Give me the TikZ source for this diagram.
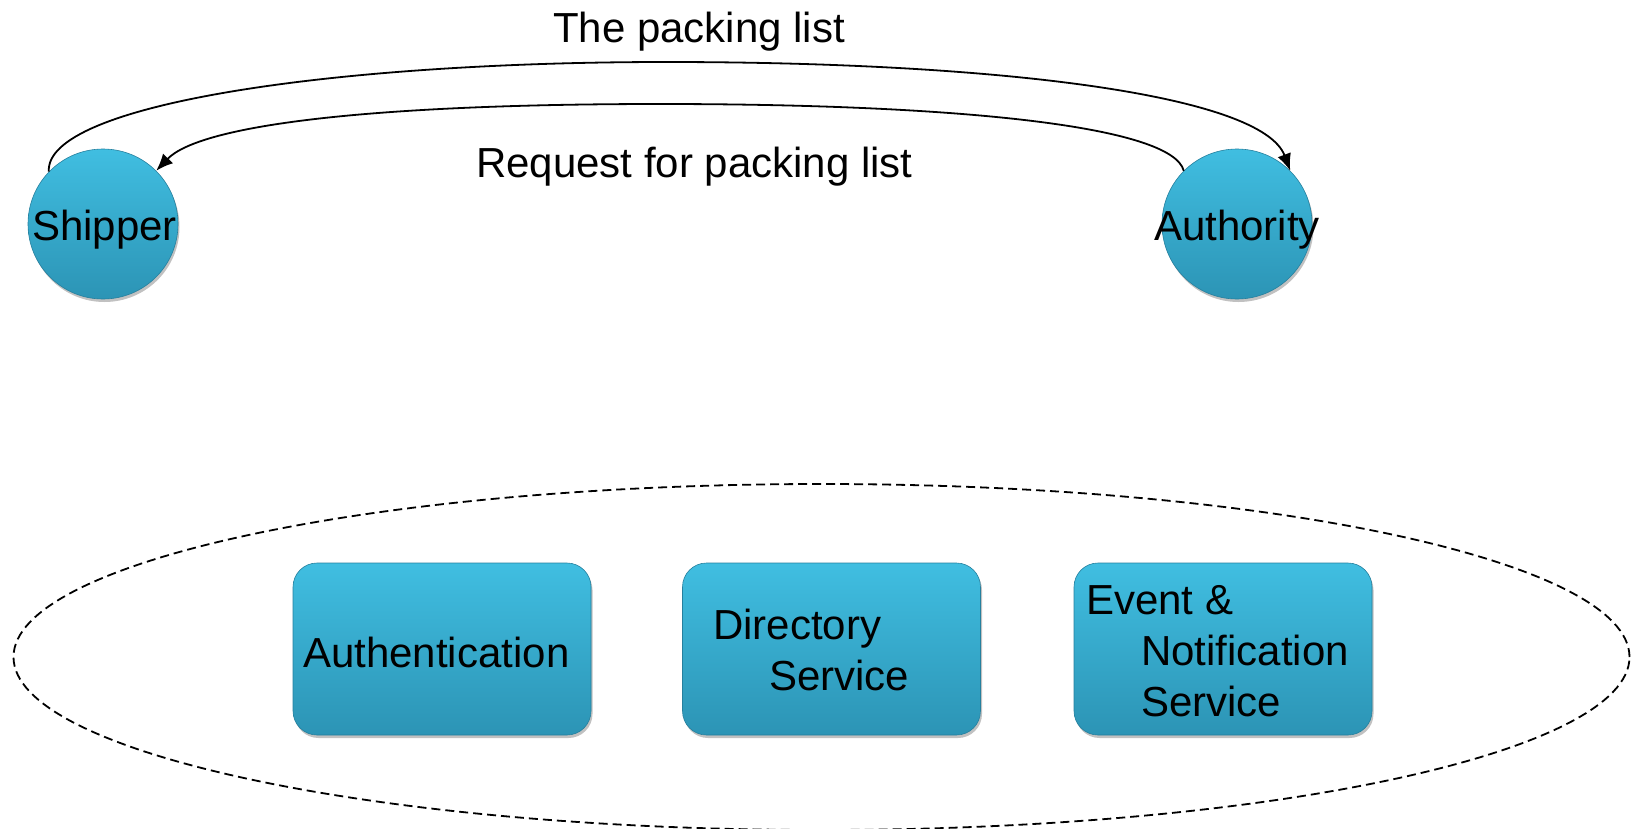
\documentclass[tikz,border=0pt]{standalone}
\usepackage{fontspec}
\setmainfont{Liberation Sans}
\usetikzlibrary{arrows.meta,shadows,shapes.geometric}
\definecolor{ballTop}{RGB}{64,190,225}
\definecolor{ballBot}{RGB}{44,148,181}
\definecolor{edgeC}{RGB}{38,128,158}
\tikzset{
  ball/.style={circle, minimum size=150pt, inner sep=0pt, top color=ballTop, bottom color=ballBot, draw=edgeC, line width=0.6pt,
    drop shadow={shadow xshift=1.5pt, shadow yshift=-3pt, opacity=0.35, fill=black!70}},
  svcbox/.style={rectangle, rounded corners=24pt, minimum width=298pt, minimum height=172pt, inner sep=0pt,
    top color=ballTop, bottom color=ballBot, draw=edgeC, line width=0.6pt,
    drop shadow={shadow xshift=1.5pt, shadow yshift=-3pt, opacity=0.35, fill=black!70}},
  lbl/.style={font=\fontsize{42}{51}\selectfont, inner sep=0pt, anchor=base west, align=left},
  flow/.style={line width=1.8pt, -{Latex[length=17pt,width=14pt]}},
  group/.style={ellipse, draw, line width=1.8pt, dash pattern=on 9pt off 5pt, minimum width=1616pt, minimum height=346pt, inner sep=0pt}
}
\begin{document}
\begin{tikzpicture}[x=1pt,y=-1pt]
\useasboundingbox (0,0) rectangle (1631,828);
% group ellipse
\node[group] (platform) at (821.5,657) {};
% actors
\node[ball] (ship) at (103,224) {};
\node[ball] (auth) at (1237,224) {};
\node[lbl] (shipT) at (32,240) {Shipper};
\node[lbl] (authT) at (1154,240) {Authority};
% service boxes
\node[svcbox] (authn) at (442,649) {};
\node[svcbox] (dir) at (831.5,649) {};
\node[svcbox] (evt) at (1223,649) {};
\node[lbl] (authnT) at (303,667) {Authentication};
\node[lbl] (dirT) at (713,690) {Directory\\\hspace*{56pt}Service};
\node[lbl] (evtT) at (1086,716) {Event \&\\\hspace*{55pt}Notification\\\hspace*{55pt}Service};
% connectors
\draw[flow] (ship.136) .. controls (44,105) and (330,62) .. (666,62)
  .. controls (1000,62) and (1262,95) .. (auth.45);
\draw[flow] (auth.135) .. controls (1172,125) and (950,104) .. (660,104)
  .. controls (370,104) and (200,125) .. (ship.45);
% connector labels
\node[lbl] (pl) at (553,42) {The packing list};
\node[lbl] (rq) at (476,177) {Request for packing list};
\end{tikzpicture}
\end{document}
